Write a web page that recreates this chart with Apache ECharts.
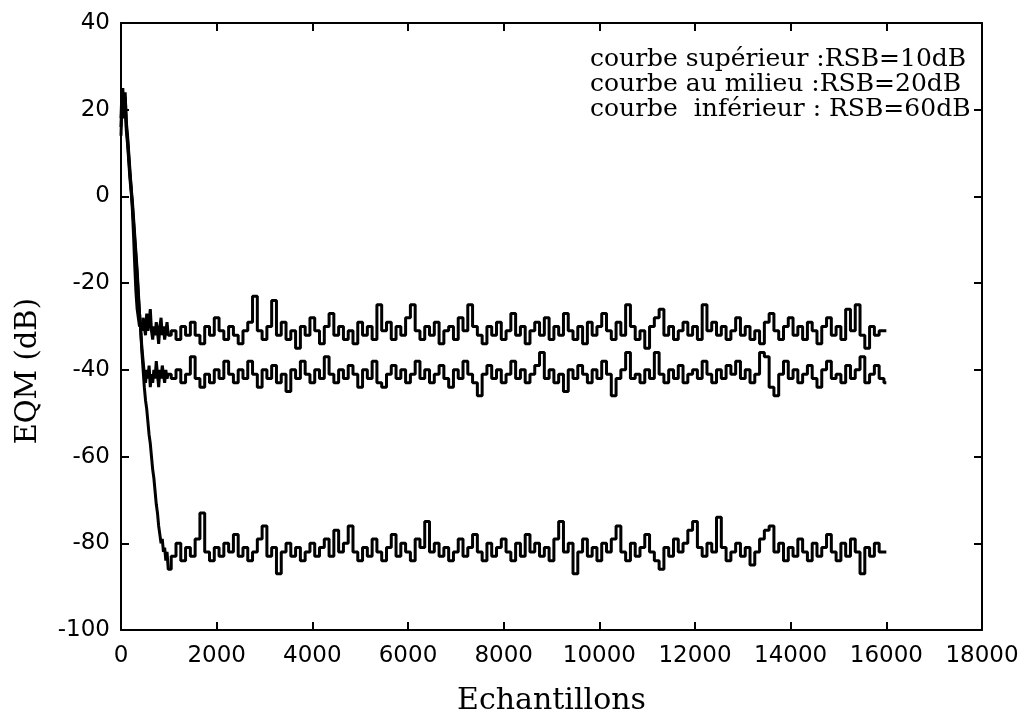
<!DOCTYPE html>
<html>
<head>
<meta charset="utf-8">
<script src="https://cdn.jsdelivr.net/npm/echarts@6/dist/echarts.min.js"></script>
<style>html,body{margin:0;padding:0;background:#fff}#c{width:1025px;height:713px}</style>
</head>
<body>
<div id="c"></div>
<script>
// X ticks
var xTicks = [0, 2000, 4000, 6000, 8000, 10000, 12000, 14000, 16000, 18000];
var yTicks = [-100, -80, -60, -40, -20, 0, 20, 40];

// Transient part: samples 0..1000 every 25
var transientStep = 25;
var top10Transient = [18,22,25,20,23,17,14,10,6,2,-3,-9,-16,-22,-26,-28,-30,-29,-31,-28,-30,-32,-27,-31,-29,-26,-31,-33,-30,-32,-29,-31,-34,-30,-28,-32,-30,-33,-31,-29,-32];
var mid20Transient = [16,20,22,18,21,15,12,8,4,1,-2,-6,-10,-14,-18,-23,-27,-31,-35,-38,-41,-43,-40,-42,-39,-44,-41,-43,-40,-42,-38,-41,-44,-40,-42,-39,-41,-43,-40,-42,-41];
var low60Transient = [14,19,23,21,24,16,13,9,5,2,-1,-5,-9,-13,-17,-22,-27,-31,-36,-40,-44,-47,-49,-52,-55,-57,-60,-63,-65,-68,-71,-73,-76,-78,-80,-79,-82,-81,-84,-82,-86];

// Steady part: samples 1100..16000 every 100
var steadyStart = 1100, steadyStep = 100;
var top10Steady = [-31,-33,-30,-32,-29,-32,-34,-30,-32,-28,-31,-33,-30,-32,-34,-31,-29,-23,-31,-33,
-30,-24,-32,-29,-33,-31,-35,-30,-32,-28,-31,-34,-30,-27,-32,-30,-33,-31,-34,-29,
-32,-30,-33,-25,-31,-29,-33,-30,-32,-28,-25,-31,-33,-30,-32,-29,-34,-31,-30,-33,
-28,-31,-25,-30,-32,-34,-30,-32,-29,-33,-31,-27,-32,-30,-34,-31,-29,-32,-28,-33,
-30,-32,-27,-31,-33,-30,-34,-29,-32,-30,-27,-31,-33,-29,-32,-25,-30,-33,-31,-35,
-30,-28,-26,-32,-30,-33,-31,-29,-32,-30,-33,-25,-31,-29,-32,-30,-33,-31,-28,-32,
-30,-33,-31,-34,-29,-27,-31,-33,-30,-28,-32,-30,-33,-29,-31,-34,-30,-28,-32,-30,
-33,-26,-31,-25,-32,-35,-30,-32,-31,-31];
var mid20Steady = [-42,-40,-43,-41,-37,-42,-44,-41,-43,-40,-42,-38,-41,-43,-40,-42,-38,-41,-44,-40,
-42,-39,-43,-41,-45,-40,-42,-38,-41,-43,-40,-42,-37,-41,-43,-40,-42,-39,-41,-44,
-40,-42,-38,-43,-44,-41,-39,-42,-40,-43,-41,-38,-42,-40,-43,-41,-39,-42,-44,-40,
-42,-38,-41,-43,-46,-41,-39,-42,-40,-43,-41,-38,-42,-40,-43,-41,-39,-36,-42,-40,
-43,-41,-45,-40,-42,-39,-41,-43,-40,-42,-38,-41,-46,-42,-40,-36,-42,-41,-43,-40,
-42,-36,-41,-43,-40,-42,-39,-43,-41,-40,-42,-38,-41,-43,-40,-42,-39,-41,-38,-42,
-40,-43,-41,-36,-37,-44,-46,-41,-38,-42,-40,-43,-41,-39,-42,-44,-40,-38,-42,-41,
-43,-39,-42,-40,-37,-43,-41,-39,-42,-43];
var low60Steady = [-83,-80,-84,-81,-83,-79,-73,-82,-84,-81,-83,-80,-82,-78,-83,-81,-84,-82,-79,-76,
-83,-81,-87,-82,-80,-83,-81,-84,-82,-80,-83,-81,-79,-83,-77,-82,-80,-76,-82,-84,
-81,-83,-79,-82,-84,-81,-78,-83,-80,-82,-84,-79,-81,-75,-82,-80,-83,-81,-84,-82,
-79,-83,-81,-78,-82,-84,-80,-83,-81,-79,-82,-84,-80,-83,-78,-82,-80,-83,-81,-84,
-79,-75,-82,-80,-87,-82,-79,-83,-81,-84,-80,-82,-79,-76,-82,-84,-80,-83,-81,-78,
-82,-84,-86,-81,-83,-79,-82,-80,-77,-75,-81,-83,-80,-82,-74,-81,-84,-82,-80,-83,
-81,-85,-82,-79,-77,-76,-82,-80,-84,-81,-83,-79,-82,-84,-80,-83,-81,-78,-82,-84,
-80,-83,-79,-82,-87,-81,-83,-80,-82,-82];

var legendLines = [
  'courbe supérieur :RSB=10dB',
  'courbe au milieu :RSB=20dB',
  'courbe  inférieur : RSB=60dB'
];
var xTitle = 'Echantillons';
var yTitle = 'EQM (dB)';

function build(trans, steady) {
  var out = [];
  for (var i = 0; i < trans.length; i++) out.push([i * transientStep, trans[i]]);
  for (var j = 0; j < steady.length; j++) out.push([steadyStart + j * steadyStep, steady[j]]);
  return out;
}

var chart = echarts.init(document.getElementById('c'), null, {renderer: 'canvas'});
var axisCommon = {
  axisLine: {show: true, onZero: false, lineStyle: {color: '#000', width: 2}},
  axisTick: {show: true, inside: true, length: 8, lineStyle: {color: '#000', width: 2}},
  splitLine: {show: false}
};
function lineSeries(name, data) {
  return {
    name: name, type: 'line', data: data, showSymbol: false, symbol: 'none', step: 'middle',
    lineStyle: {color: '#000', width: 3}, animation: false, xAxisIndex: 0, yAxisIndex: 0
  };
}
chart.setOption({
  animation: false,
  backgroundColor: '#fff',
  title: {
    text: legendLines.join('\n'),
    left: 585, top: 42,
    textStyle: {fontFamily: 'DejaVu Serif', fontSize: 25, fontWeight: 'normal', color: '#000', lineHeight: 25}
  },
  graphic: [{
    type: 'text', left: 14, top: 298, rotation: Math.PI / 2,
    style: {text: yTitle, fontFamily: 'DejaVu Serif', fontSize: 29, fill: '#000', textAlign: 'center', textVerticalAlign: 'middle'}
  }],
  grid: {left: 121, right: 43, top: 23, bottom: 83, containLabel: false, outerBoundsMode: 'none'},
  xAxis: [
    Object.assign({type: 'value', min: 0, max: 18000, interval: 2000, position: 'bottom',
      axisLabel: {color: '#000', fontFamily: 'DejaVu Sans', fontSize: 23, margin: 15, formatter: function (v) { return String(v); }},
      name: xTitle, nameLocation: 'middle', nameGap: 56,
      nameTextStyle: {fontFamily: 'DejaVu Serif', fontSize: 30, color: '#000'}}, axisCommon),
    Object.assign({type: 'value', min: 0, max: 18000, interval: 2000, position: 'top',
      axisLabel: {show: false}}, axisCommon)
  ],
  yAxis: [
    Object.assign({type: 'value', min: -100, max: 40, interval: 20, position: 'left',
      axisLabel: {color: '#000', fontFamily: 'DejaVu Sans', fontSize: 23, margin: 11}}, axisCommon),
    Object.assign({type: 'value', min: -100, max: 40, interval: 20, position: 'right',
      axisLabel: {show: false}}, axisCommon)
  ],
  series: [
    lineSeries('RSB=10dB', build(top10Transient, top10Steady)),
    lineSeries('RSB=20dB', build(mid20Transient, mid20Steady)),
    lineSeries('RSB=60dB', build(low60Transient, low60Steady))
  ]
});
</script>
</body>
</html>
